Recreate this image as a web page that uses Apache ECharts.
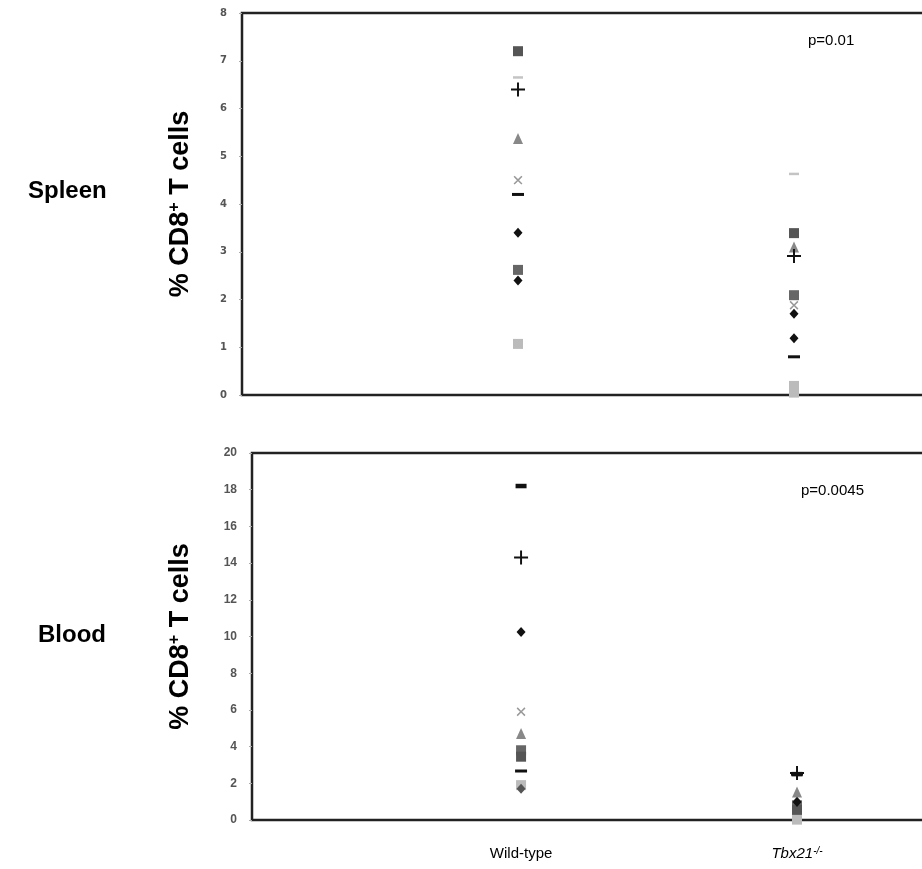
<!DOCTYPE html>
<html><head><meta charset="utf-8">
<script src="https://cdn.jsdelivr.net/npm/echarts@6/dist/echarts.min.js"></script>
<style>html,body{margin:0;padding:0;background:#fff}#c{width:922px;height:869px}</style>
</head><body><div id="c"></div>
<script>
// categories (x positions 1 and 2)
const categories = ['Wild-type', 'Tbx21'];
const spleenTicks = [0,1,2,3,4,5,6,7,8];
const bloodTicks = [0,2,4,6,8,10,12,14,16,18,20];

// Spleen: values per series [Wild-type, Tbx21-/-]
const spleenDiamondA = [3.4, 1.19];
const spleenDiamondB = [2.4, 1.7];
const spleenSquareDark = [7.2, 3.39];
const spleenSquareMid = [2.62, 2.09];
const spleenSquareLight = [1.07, 0.19];
const spleenSquareLight2 = [null, 0.05];
const spleenTriangle = [5.37, 3.1];
const spleenCross = [4.5, 1.88];
const spleenDashLight = [6.65, 4.63];
const spleenDashDark = [4.2, 0.8];
const spleenPlus = [6.4, 2.91];

// Blood: values per series [Wild-type, Tbx21-/-]
const bloodDashTop = [18.2, 2.5];
const bloodPlus = [14.3, 2.56];
const bloodDiamondA = [10.25, 0.98];
const bloodCross = [5.9, 0.7];
const bloodTriangle = [4.72, 1.53];
const bloodSquareA = [3.8, 0.8];
const bloodSquareB = [3.45, 0.55];
const bloodDashLow = [2.67, 2.5];
const bloodDiamondB = [1.7, 1.0];
const bloodSquareLight = [1.9, 0.02];

const PLUS = 'path://M4.3,0 L5.7,0 L5.7,4.3 L10,4.3 L10,5.7 L5.7,5.7 L5.7,10 L4.3,10 L4.3,5.7 L0,5.7 L0,4.3 L4.3,4.3 Z';
const styles = {
  diamondBlack: {symbol:'diamond', symbolSize:[9,10], color:'#111'},
  diamondGray: {symbol:'diamond', symbolSize:[9,10], color:'#555'},
  squareDark: {symbol:'rect', symbolSize:10, color:'#555'},
  squareMid: {symbol:'rect', symbolSize:10, color:'#666'},
  squareLight: {symbol:'rect', symbolSize:10, color:'#bbb'},
  triangle: {symbol:'triangle', symbolSize:[10,11], color:'#888'},
  cross: {symbol:PLUS, symbolSize:11, symbolRotate:45, color:'#999'},
  dashLight: {symbol:'rect', symbolSize:[10,2.5], color:'#c4c4c4'},
  dashDark: {symbol:'rect', symbolSize:[12,3], color:'#111'},
  dashThick: {symbol:'rect', symbolSize:[11,4.5], color:'#111'},
  plus: {symbol:PLUS, symbolSize:14, color:'#111'}
};

function mk(vals, st, grid) {
  return {
    type:'scatter', xAxisIndex:grid, yAxisIndex:grid,
    symbol: st.symbol, symbolSize: st.symbolSize, symbolRotate: st.symbolRotate || 0,
    itemStyle:{color: st.color, opacity:1},
    silent:true, animation:false,
    data: vals.map((v,i)=> v==null ? null : [i+1, v]).filter(d=>d)
  };
}

const series = [
  mk(spleenSquareLight2, styles.squareLight, 0),
  mk(spleenSquareLight, styles.squareLight, 0),
  mk(spleenDashLight, styles.dashLight, 0),
  mk(spleenCross, styles.cross, 0),
  mk(spleenTriangle, styles.triangle, 0),
  mk(spleenSquareMid, styles.squareMid, 0),
  mk(spleenSquareDark, styles.squareDark, 0),
  mk(spleenDiamondB, styles.diamondBlack, 0),
  mk(spleenDiamondA, styles.diamondBlack, 0),
  mk(spleenDashDark, styles.dashDark, 0),
  mk(spleenPlus, styles.plus, 0),

  mk(bloodSquareLight, styles.squareLight, 1),
  mk(bloodDiamondB, styles.diamondGray, 1),
  mk(bloodCross, styles.cross, 1),
  mk(bloodTriangle, styles.triangle, 1),
  mk(bloodSquareA, styles.squareMid, 1),
  mk(bloodSquareB, styles.squareDark, 1),
  mk(bloodDiamondA, styles.diamondBlack, 1),
  mk(bloodDashLow, styles.dashDark, 1),
  mk(bloodPlus, styles.plus, 1),
  mk(bloodDashTop, styles.dashThick, 1)
];

const yName = {
  name:'{a|% CD8}{s|+}{a| T cells}', nameLocation:'middle',
  nameTextStyle:{rich:{
    a:{fontFamily:'Liberation Sans, Arial', fontWeight:'bold', fontSize:27, color:'#000'},
    s:{fontFamily:'Liberation Sans, Arial', fontWeight:'bold', fontSize:16, color:'#000', verticalAlign:'top'}
  }}
};

const chart = echarts.init(document.getElementById('c'), null, {renderer:'canvas'});
chart.setOption({
  backgroundColor:'#fff',
  animation:false,
  grid:[
    {left:242, top:13, height:382, width:690, outerBoundsMode:'none', containLabel:false, show:true, borderColor:'#222', borderWidth:2.5, backgroundColor:'transparent'},
    {left:252, top:453, height:367, width:683, outerBoundsMode:'none', containLabel:false, show:true, borderColor:'#222', borderWidth:2.5, backgroundColor:'transparent'}
  ],
  xAxis:[
    {type:'value', gridIndex:0, min:0, max:2.5, axisLine:{show:false}, axisTick:{show:false}, axisLabel:{show:false}, splitLine:{show:false}},
    {type:'value', gridIndex:1, min:0.025, max:2.5, axisLine:{show:false}, axisTick:{show:false}, splitLine:{show:false},
     axisLabel:{show:true, interval:0, margin:26, customValues:[1,2],
       formatter:(v)=> v===1 ? categories[0] : '{i|' + categories[1] + '}{s|-/-}',
       fontFamily:'Liberation Sans, Arial', fontSize:15, color:'#000',
       rich:{i:{fontStyle:'italic', fontSize:15, fontFamily:'Liberation Sans, Arial', color:'#000'},
             s:{fontStyle:'italic', fontSize:10, fontFamily:'Liberation Sans, Arial', color:'#000', verticalAlign:'top'}}}}
  ],
  yAxis:[
    Object.assign({type:'value', gridIndex:0, min:spleenTicks[0], max:spleenTicks[spleenTicks.length-1], interval:1,
     axisLine:{show:false}, splitLine:{show:false},
     axisTick:{show:true, length:3, lineStyle:{color:'#aaa'}},
     axisLabel:{fontSize:10, fontWeight:'bold', color:'#555', fontFamily:'DejaVu Sans', margin:15},
     nameGap:48}, yName),
    Object.assign({type:'value', gridIndex:1, min:bloodTicks[0], max:bloodTicks[bloodTicks.length-1], interval:2,
     axisLine:{show:false}, splitLine:{show:false},
     axisTick:{show:true, length:3, lineStyle:{color:'#aaa'}},
     axisLabel:{fontSize:12, fontWeight:'bold', color:'#555', fontFamily:'Liberation Sans, Arial', margin:15},
     nameGap:58}, yName)
  ],
  graphic:[
    {type:'text', left:28, top:179, style:{text:'Spleen', font:'bold 24px "Liberation Sans", Arial', fill:'#000'}},
    {type:'text', left:38, top:623, style:{text:'Blood', font:'bold 24px "Liberation Sans", Arial', fill:'#000'}},
    {type:'text', left:808, top:33, style:{text:'p=0.01', font:'15px "Liberation Sans", Arial', fill:'#000'}},
    {type:'text', left:801, top:483, style:{text:'p=0.0045', font:'15px "Liberation Sans", Arial', fill:'#000'}}
  ],
  series: series
});
</script></body></html>
